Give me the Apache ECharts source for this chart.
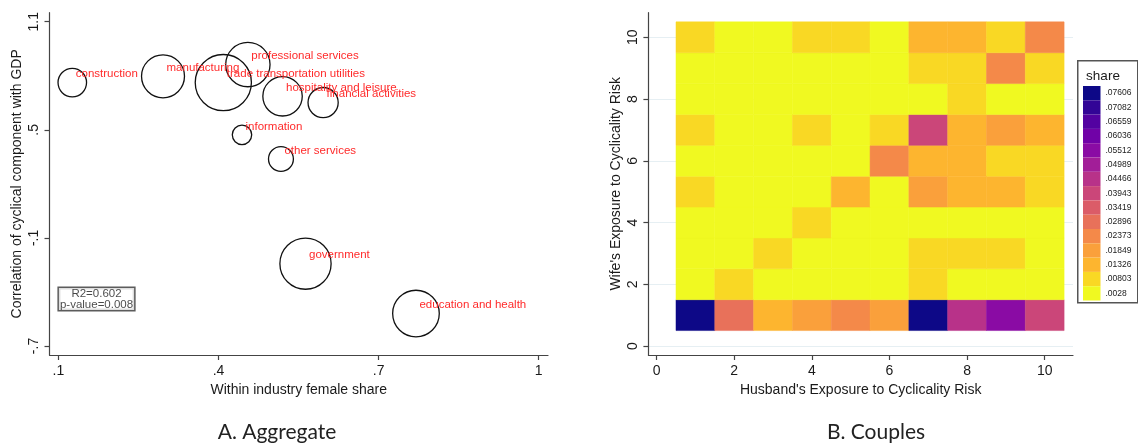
<!DOCTYPE html>
<html>
<head>
<meta charset="utf-8">
<script src="https://cdn.jsdelivr.net/npm/echarts@6/dist/echarts.min.js"></script>
<style>
html, body { margin: 0; padding: 0; background: #fff; }
#main { width: 1138px; height: 443px; }
</style>
</head>
<body>
<div id="main"></div>
<script>
// Panel A: industries
var industries = ['construction', 'manufacturing', 'trade transportation utilities', 'professional services',
  'hospitality and leisure', 'financial activities', 'information', 'other services', 'government', 'education and health'];
var femaleShare = [0.126, 0.296, 0.409, 0.455, 0.520, 0.596, 0.444, 0.517, 0.563, 0.770];
var gdpCorr = [0.762, 0.797, 0.762, 0.862, 0.686, 0.651, 0.472, 0.338, -0.243, -0.520];
var employment = [6.7, 15.2, 26, 16.2, 12.8, 7.5, 3.1, 5.1, 21.6, 17.9]; // bubble weight
var statsLines = ['R2=0.602', 'p-value=0.008'];
var xTicksA = [0.1, 0.4, 0.7, 1];
var yTicksA = [1.1, 0.5, -0.1, -0.7];

// Panel B: couples, rows are wife's exposure 1..10, columns husband's exposure 1..10
var husbandRisk = [1, 2, 3, 4, 5, 6, 7, 8, 9, 10];
var wifeRisk = [1, 2, 3, 4, 5, 6, 7, 8, 9, 10];
var shareRows = [
  [0.079, 0.031, 0.016, 0.021, 0.026, 0.021, 0.079, 0.047, 0.058, 0.042],
  [0.0045, 0.0105, 0.0045, 0.0045, 0.0045, 0.0045, 0.0105, 0.0045, 0.0045, 0.0045],
  [0.0045, 0.0045, 0.0105, 0.0045, 0.0045, 0.0045, 0.0105, 0.0105, 0.0105, 0.0045],
  [0.0045, 0.0045, 0.0045, 0.0105, 0.0045, 0.0045, 0.0045, 0.0045, 0.0045, 0.0045],
  [0.0105, 0.0045, 0.0045, 0.0045, 0.016, 0.0045, 0.021, 0.016, 0.016, 0.0105],
  [0.0045, 0.0045, 0.0045, 0.0045, 0.0045, 0.026, 0.016, 0.016, 0.0105, 0.0105],
  [0.0105, 0.0045, 0.0045, 0.0105, 0.0045, 0.0105, 0.042, 0.016, 0.021, 0.016],
  [0.0045, 0.0045, 0.0045, 0.0045, 0.0045, 0.0045, 0.0045, 0.0105, 0.0045, 0.0045],
  [0.0045, 0.0045, 0.0045, 0.0045, 0.0045, 0.0045, 0.0105, 0.0105, 0.026, 0.0105],
  [0.0105, 0.0045, 0.0045, 0.0105, 0.0105, 0.0045, 0.016, 0.016, 0.0105, 0.026]
];
var shareCuts = [0.0028, 0.00803, 0.01326, 0.01849, 0.02373, 0.02896, 0.03419, 0.03943,
  0.04466, 0.04989, 0.05512, 0.06036, 0.06559, 0.07082, 0.07606];
var xTicksB = [0, 2, 4, 6, 8, 10];
var yTicksB = [0, 2, 4, 6, 8, 10];

// plasma, low -> high
var plasma = ['#f0f921', '#f9d824', '#fdb52f', '#faa03b', '#f48949', '#e8715a', '#db5c68', '#cb4679',
  '#b83289', '#a21e98', '#8a0ba4', '#7002a7', '#5302a1', '#320596', '#0d0887'];

// Stata style numbers: no leading zero
var stataNum = function (v) { return String(+v.toFixed(4)).replace(/^(-?)0\./, '$1.'); };
var stataCut = function (v) { return String(v).replace(/^0\./, '.'); };

var bubbles = industries.map(function (n, i) {
  return { name: n, value: [femaleShare[i], gdpCorr[i], employment[i]] };
});
var cells = [];
wifeRisk.forEach(function (w, r) {
  husbandRisk.forEach(function (h, c) { cells.push([h, w, shareRows[r][c]]); });
});
var pieces = shareCuts.map(function (c, i) {
  return { min: c, max: i < shareCuts.length - 1 ? shareCuts[i + 1] : 1, label: stataCut(c), color: plasma[i] };
});

var txt = '#1a1a1a', axisCol = '#444', font = 'Liberation Sans, Arial, sans-serif';
function axisBase(name, min, max, ticks, vertical, gap) {
  return {
    type: 'value', min: min, max: max, name: name, nameLocation: 'middle', nameGap: gap,
    nameTextStyle: { color: txt, fontSize: 14, fontFamily: font },
    axisLine: { show: true, onZero: false, lineStyle: { color: axisCol, width: 1.2 } },
    axisTick: { show: true, length: 5, customValues: ticks, lineStyle: { color: axisCol, width: 1.2 } },
    axisLabel: { customValues: ticks, formatter: stataNum, color: txt, fontSize: 14, fontFamily: font,
      margin: vertical ? 8 : 9, rotate: vertical ? 90 : 0 },
    splitLine: { show: false }
  };
}

var myChart = echarts.init(document.getElementById('main'));
var axA = axisBase('Within industry female share', 0.0833, 1.0174, xTicksA, false, 25);
var ayA = axisBase('Correlation of cyclical component with GDP', -0.75, 1.15, yTicksA, true, 25);
var axB = axisBase("Husband's Exposure to Cyclicality Risk", -0.211, 10.729, xTicksB, false, 25);
var ayB = axisBase("Wife's Exposure to Cyclicality Risk", -0.2916, 10.797, yTicksB, true, 25);
axB.gridIndex = 1; ayB.gridIndex = 1;
ayB.splitLine = { show: true, lineStyle: { color: '#e6eff3', width: 1 } };

var option = {
  animation: false,
  grid: [
    { left: 49.5, top: 12.7, width: 498.5, height: 342.3 },
    { left: 648.4, top: 12.7, width: 424.6, height: 342.3 }
  ],
  xAxis: [axA, axB],
  yAxis: [ayA, ayB],
  visualMap: {
    type: 'piecewise', seriesIndex: 2, dimension: 2, pieces: pieces, align: 'left',
    left: 1083, top: 86, orient: 'vertical', itemWidth: 17.5, itemHeight: 14.3, itemGap: 0,
    itemSymbol: 'rect', textGap: 5, padding: 0, hoverLink: false, selectedMode: false,
    textStyle: { color: '#222', fontSize: 8.5, fontFamily: font }
  },
  graphic: [
    { type: 'rect', left: 1077, top: 60, shape: { width: 60, height: 242 },
      style: { fill: '#fff', stroke: '#555', lineWidth: 1.5 }, z: -1 },
    { type: 'text', style: { text: 'share', fill: txt, fontSize: 13.5, fontFamily: font,
      x: 1103, y: 76, align: 'center', verticalAlign: 'middle' } },
    { type: 'text', style: { text: 'A. Aggregate', fill: '#222', fontSize: 21, fontFamily: 'Lato, sans-serif',
      x: 277, y: 432, align: 'center', verticalAlign: 'middle' } },
    { type: 'text', style: { text: 'B. Couples', fill: '#222', fontSize: 21, fontFamily: 'Lato, sans-serif',
      x: 876, y: 432, align: 'center', verticalAlign: 'middle' } }
  ],
  series: [
    {
      type: 'scatter', xAxisIndex: 0, yAxisIndex: 0, data: bubbles,
      symbolSize: function (v) { return 11.02 * Math.sqrt(v[2]); },
      itemStyle: { color: 'rgba(0,0,0,0)', borderColor: '#111', borderWidth: 1.3, opacity: 1 },
      label: { show: true, formatter: '{b}', position: 'inside', align: 'left', verticalAlign: 'middle',
        offset: [3.5, -8.5], color: '#ff2a2a', fontSize: 11.5, fontFamily: font },
      emphasis: { disabled: true }
    },
    {
      type: 'scatter', xAxisIndex: 0, yAxisIndex: 0, symbolSize: 0,
      data: [[0.1714, -0.439]],
      label: { show: true, position: 'inside', formatter: statsLines.join('\n'), color: txt, fontSize: 11.5,
        lineHeight: 11, fontFamily: font, borderColor: '#333', borderWidth: 1.5, padding: [0, 1], backgroundColor: '#fff' },
      emphasis: { disabled: true }
    },
    {
      type: 'custom', xAxisIndex: 1, yAxisIndex: 1, data: cells, encode: { x: 0, y: 1 },
      renderItem: function (params, api) {
        var p0 = api.coord([api.value(0) - 0.5, api.value(1) + 0.5]);
        var p1 = api.coord([api.value(0) + 0.5, api.value(1) - 0.5]);
        var col = api.visual('color');
        return { type: 'rect', shape: { x: p0[0], y: p0[1], width: p1[0] - p0[0], height: p1[1] - p0[1] },
          style: { fill: col, stroke: col, lineWidth: 0.5 } };
      }
    }
  ]
};

myChart.setOption(option);
</script>
</body>
</html>
